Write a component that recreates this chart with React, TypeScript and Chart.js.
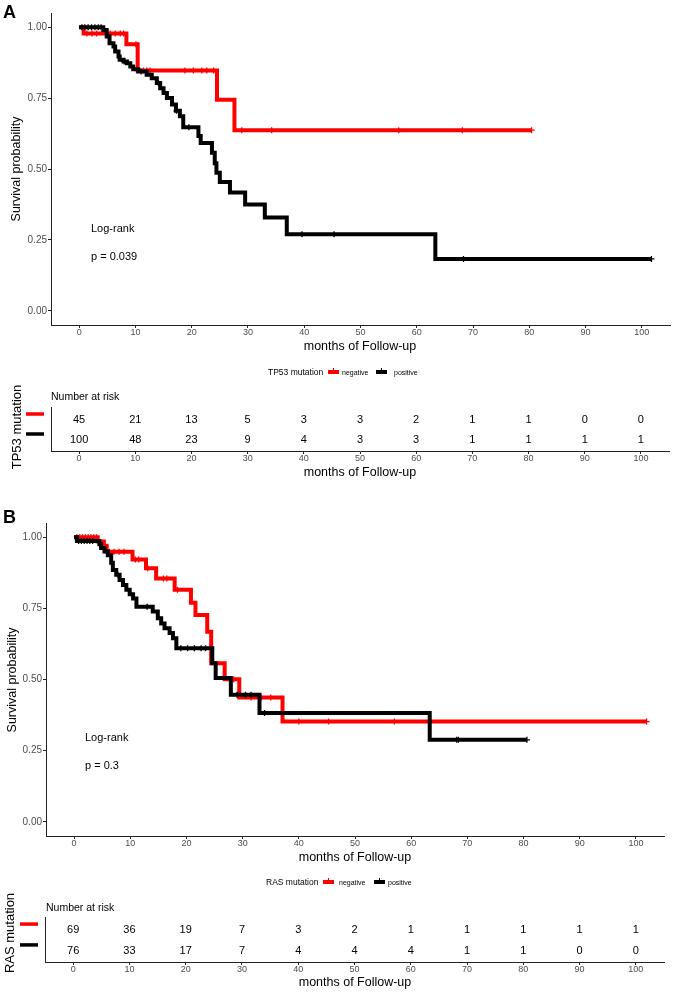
import React, { useEffect, useRef } from "react";
import { Chart, registerables } from "chart.js";
Chart.register(...registerables);

const FONT = '"Liberation Sans", Arial, Helvetica, sans-serif';
const RED = "#FF0000";
const BLACK = "#000000";
const AXIS = "#222222";
const TICKTEXT = "#4D4D4D";

const monthTicks = [0, 10, 20, 30, 40, 50, 60, 70, 80, 90, 100];
const survTicks = [0, 0.25, 0.5, 0.75, 1];

// ---- Panel A: TP53 mutation ----
const tp53NegTime = [0, 0.8, 8.4, 10.4, 24.5, 27.6];
const tp53NegSurv = [1, 0.978, 0.94, 0.847, 0.744, 0.637];
const tp53NegLast = 80.4;
const tp53NegCensor = [1.4, 2.3, 3.1, 5.5, 6.4, 7.3, 7.9, 10.1, 11.4, 12.0, 12.6, 18.8, 20.3, 21.8, 22.7, 23.9, 28.9, 34.2, 56.8, 68.1, 80.4];

const tp53PosTime = [0, 4.3, 4.9, 5.4, 6.1, 6.4, 7.0, 7.2, 7.9, 8.5, 9.1, 9.6, 10.5, 12.0, 12.9, 13.8, 14.4, 15.0, 15.6, 16.5, 17.2, 17.9, 18.5, 21.2, 21.6, 23.6, 24.1, 24.4, 25.0, 26.8, 29.5, 33.0, 36.9, 63.3];
const tp53PosSurv = [1, 0.99, 0.967, 0.943, 0.932, 0.914, 0.897, 0.885, 0.879, 0.873, 0.861, 0.852, 0.844, 0.832, 0.82, 0.803, 0.785, 0.768, 0.75, 0.727, 0.705, 0.686, 0.647, 0.616, 0.592, 0.557, 0.52, 0.487, 0.454, 0.417, 0.375, 0.329, 0.27, 0.183];
const tp53PosLast = 101.7;
const tp53PosCensor = [0.5, 1.0, 1.6, 2.2, 2.8, 3.4, 3.9, 8.0, 11.0, 14.1, 17.3, 19.5, 39.6, 45.3, 68.3, 101.7];

const tp53RiskNeg = [45, 21, 13, 5, 3, 3, 2, 1, 1, 0, 0];
const tp53RiskPos = [100, 48, 23, 9, 4, 3, 3, 1, 1, 1, 1];

// ---- Panel B: RAS mutation ----
const rasNegTime = [0, 4.2, 5.3, 5.8, 10.4, 12.8, 14.6, 17.9, 20.8, 21.6, 23.7, 24.4, 26.8, 29.4, 37.1];
const rasNegSurv = [1, 0.985, 0.97, 0.949, 0.922, 0.891, 0.855, 0.815, 0.77, 0.727, 0.668, 0.557, 0.501, 0.437, 0.352];
const rasNegLast = 101.9;
const rasNegCensor = [0.5, 1.0, 1.5, 2.0, 2.5, 3.0, 3.5, 4.0, 6.3, 7.1, 8.0, 8.9, 10.9, 11.5, 13.1, 15.9, 16.5, 18.4, 28.4, 31.5, 33.3, 35.0, 40.0, 45.3, 57.0, 101.9];

const rasPosTime = [0, 0.5, 4.5, 4.8, 5.4, 6.0, 6.6, 6.9, 7.5, 8.1, 8.7, 9.3, 9.9, 10.5, 11.1, 14.0, 14.9, 15.5, 16.1, 17.0, 17.6, 18.2, 24.6, 25.2, 27.9, 33.0, 63.3];
const rasPosSurv = [1, 0.987, 0.975, 0.962, 0.95, 0.937, 0.91, 0.885, 0.868, 0.85, 0.832, 0.815, 0.8, 0.785, 0.756, 0.739, 0.715, 0.697, 0.68, 0.663, 0.645, 0.61, 0.557, 0.505, 0.446, 0.382, 0.288];
const rasPosLast = 80.6;
const rasPosCensor = [0.8, 1.3, 1.8, 2.3, 2.8, 3.3, 7.8, 13.0, 19.0, 20.2, 21.4, 22.6, 23.4, 29.0, 30.5, 31.5, 33.9, 68.1, 68.4, 80.6];

const rasRiskNeg = [69, 36, 19, 7, 3, 2, 1, 1, 1, 1, 1];
const rasRiskPos = [76, 33, 17, 7, 4, 4, 4, 1, 1, 0, 0];

type Curve = { time: number[]; surv: number[]; last: number; censor: number[]; color: string };
type Area = { left: number; right: number; top: number; bottom: number };

function stepValue(time: number[], surv: number[], t: number) {
  let v = surv[0];
  for (let i = 0; i < time.length; i++) if (time[i] <= t) v = surv[i];
  return v;
}

function xAxis(height: number, area: Area): any {
  return {
    type: "linear",
    min: -5,
    max: 105,
    afterBuildTicks: (s: any) => {
      s.ticks = monthTicks.map((v) => ({ value: v }));
    },
    afterFit: (s: any) => {
      s.height = height - area.bottom;
    },
    ticks: {
      font: { family: FONT, size: 9 },
      color: TICKTEXT,
      padding: -1,
      maxRotation: 0,
      autoSkip: false,
      callback: (v: any) => String(v),
    },
    grid: { display: true, drawOnChartArea: false, drawTicks: true, tickLength: 3, color: AXIS, lineWidth: 1 },
    border: { display: true, color: AXIS, width: 1 },
  };
}

function KMPlot({ top, height, area, curves }: { top: number; height: number; area: Area; curves: Curve[] }) {
  const ref = useRef<HTMLCanvasElement>(null);
  useEffect(() => {
    const datasets: any[] = [];
    curves.forEach((c) => {
      datasets.push({
        data: c.censor.map((t) => ({ x: t, y: stepValue(c.time, c.surv, t) })),
        showLine: false,
        pointStyle: "cross",
        pointRadius: 3,
        pointBorderWidth: 1.3,
        pointBorderColor: c.color,
        pointBackgroundColor: c.color,
        borderColor: c.color,
        clip: false,
      });
      datasets.push({
        data: [...c.time.map((t, i) => ({ x: t, y: c.surv[i] })), { x: c.last, y: c.surv[c.surv.length - 1] }],
        stepped: "before",
        borderColor: c.color,
        borderWidth: 4,
        pointRadius: 0,
        fill: false,
        borderJoinStyle: "miter",
        borderCapStyle: "butt",
        clip: false,
      });
    });
    const chart = new Chart(ref.current!, {
      type: "line",
      data: { datasets },
      options: {
        animation: false,
        responsive: false,
        events: [],
        layout: { padding: { left: 0, top: area.top, right: 676 - area.right, bottom: 0 } },
        plugins: { legend: { display: false }, tooltip: { enabled: false } },
        scales: {
          x: xAxis(height, area),
          y: {
            type: "linear",
            min: -0.05,
            max: 1.05,
            afterBuildTicks: (s: any) => {
              s.ticks = survTicks.map((v) => ({ value: v }));
            },
            afterFit: (s: any) => {
              s.width = area.left;
            },
            ticks: {
              font: { family: FONT, size: 10 },
              color: TICKTEXT,
              padding: 1,
              callback: (v: any) => Number(v).toFixed(2),
            },
            grid: { display: true, drawOnChartArea: false, drawTicks: true, tickLength: 3, color: AXIS, lineWidth: 1 },
            border: { display: true, color: AXIS, width: 1 },
          },
        },
      } as any,
    });
    return () => chart.destroy();
  }, []);
  return <canvas ref={ref} width={676} height={height} style={{ position: "absolute", left: 0, top, width: 676, height }} />;
}

function RiskTable({ top, height, area, yMin, yMax, rows, colors }: { top: number; height: number; area: Area; yMin: number; yMax: number; rows: number[][]; colors: string[] }) {
  const ref = useRef<HTMLCanvasElement>(null);
  useEffect(() => {
    const plugin = {
      id: "riskNumbers",
      afterDraw(chart: any) {
        const ctx = chart.ctx;
        const xs = chart.scales.x;
        const ys = chart.scales.y;
        ctx.save();
        ctx.font = `11px ${FONT}`;
        ctx.textAlign = "center";
        ctx.textBaseline = "alphabetic";
        rows.forEach((row, i) => {
          const y = ys.getPixelForValue(i);
          ctx.fillStyle = "#000";
          row.forEach((n, j) => ctx.fillText(String(n), xs.getPixelForValue(monthTicks[j]), y + 4));
          ctx.fillStyle = colors[i];
          ctx.fillRect(chart.chartArea.left - 25, y - 5 - 1.75, 18, 3.5);
        });
        ctx.restore();
      },
    };
    const chart = new Chart(ref.current!, {
      type: "scatter",
      data: { datasets: [] },
      plugins: [plugin],
      options: {
        animation: false,
        responsive: false,
        events: [],
        layout: { padding: { left: 0, top: area.top, right: 676 - area.right, bottom: 0 } },
        plugins: { legend: { display: false }, tooltip: { enabled: false } },
        scales: {
          x: xAxis(height, area),
          y: {
            type: "linear",
            reverse: true,
            min: yMin,
            max: yMax,
            afterFit: (s: any) => {
              s.width = area.left;
            },
            ticks: { display: false },
            grid: { display: false },
            border: { display: true, color: AXIS, width: 1 },
          },
        },
      } as any,
    });
    return () => chart.destroy();
  }, []);
  return <canvas ref={ref} width={676} height={height} style={{ position: "absolute", left: 0, top, width: 676, height }} />;
}

function Label({ x, y, size, text, align = "center", rotate = false, bold = false, color = "#000" }: any) {
  const tx = align === "center" ? "-50%" : align === "left" ? "0" : "-100%";
  return (
    <div
      style={{
        position: "absolute",
        left: x,
        top: y,
        transform: `translate(${tx}, -50%)${rotate ? " rotate(-90deg)" : ""}`,
        fontFamily: FONT,
        fontSize: size,
        fontWeight: bold ? 700 : 400,
        color,
        whiteSpace: "nowrap",
        lineHeight: 1,
      }}
    >
      {text}
    </div>
  );
}

function Key({ x, y, color }: { x: number; y: number; color: string }) {
  return (
    <div style={{ position: "absolute", left: x, top: y - 2, width: 11, height: 4, background: color }}>
      <div style={{ position: "absolute", left: 4.5, top: -2, width: 1.5, height: 6, background: color }} />
    </div>
  );
}

function Legend({ y, title, titleX, redX, negX, blackX, posX }: any) {
  return (
    <>
      <Label x={titleX} y={y} size={8.5} text={title} align="left" />
      <Key x={redX} y={y} color={RED} />
      <Label x={negX} y={y} size={7} text="negative" align="left" />
      <Key x={blackX} y={y} color={BLACK} />
      <Label x={posX} y={y} size={7} text="positive" align="left" />
    </>
  );
}

export default function App() {
  const curvesA: Curve[] = [
    { time: tp53PosTime, surv: tp53PosSurv, last: tp53PosLast, censor: tp53PosCensor, color: BLACK },
    { time: tp53NegTime, surv: tp53NegSurv, last: tp53NegLast, censor: tp53NegCensor, color: RED },
  ];
  const curvesB: Curve[] = [
    { time: rasPosTime, surv: rasPosSurv, last: rasPosLast, censor: rasPosCensor, color: BLACK },
    { time: rasNegTime, surv: rasNegSurv, last: rasNegLast, censor: rasNegCensor, color: RED },
  ];
  return (
    <div style={{ position: "absolute", left: 0, top: 0, width: 676, height: 993, background: "#fff", overflow: "hidden" }}>
      <KMPlot top={0} height={345} area={{ left: 51, right: 670, top: 13, bottom: 325 }} curves={curvesA} />
      <RiskTable top={400} height={65} area={{ left: 51, right: 669, top: 7, bottom: 51 }} yMin={-0.6} yMax={1.6} rows={[tp53RiskNeg, tp53RiskPos]} colors={[RED, BLACK]} />
      <KMPlot top={505} height={350} area={{ left: 46, right: 664, top: 18, bottom: 331 }} curves={curvesB} />
      <RiskTable top={905} height={75} area={{ left: 45, right: 664, top: 12, bottom: 57 }} yMin={-0.58} yMax={1.58} rows={[rasRiskNeg, rasRiskPos]} colors={[RED, BLACK]} />

      <Label x={3} y={12} size={18} text="A" align="left" bold />
      <Label x={16} y={169} size={12.5} text="Survival probability" rotate />
      <Label x={91} y={228} size={11} text="Log-rank" align="left" />
      <Label x={91} y={256} size={11} text="p = 0.039" align="left" />
      <Label x={360} y={346} size={12.5} text="months of Follow-up" />
      <Legend y={372} title="TP53 mutation" titleX={268} redX={328} negX={342} blackX={376} posX={394} />
      <Label x={51} y={396} size={10.5} text="Number at risk" align="left" />
      <Label x={16} y={427} size={13} text="TP53 mutation" rotate />
      <Label x={360} y={472} size={12.5} text="months of Follow-up" />

      <Label x={3} y={517} size={18} text="B" align="left" bold />
      <Label x={12} y={680} size={12.5} text="Survival probability" rotate />
      <Label x={85} y={737} size={11} text="Log-rank" align="left" />
      <Label x={85} y={765} size={11} text="p = 0.3" align="left" />
      <Label x={355} y={857} size={12.5} text="months of Follow-up" />
      <Legend y={882} title="RAS mutation" titleX={266} redX={323} negX={339} blackX={374} posX={388} />
      <Label x={46} y={907} size={10.5} text="Number at risk" align="left" />
      <Label x={9} y={933} size={13} text="RAS mutation" rotate />
      <Label x={355} y={982} size={12.5} text="months of Follow-up" />
    </div>
  );
}
